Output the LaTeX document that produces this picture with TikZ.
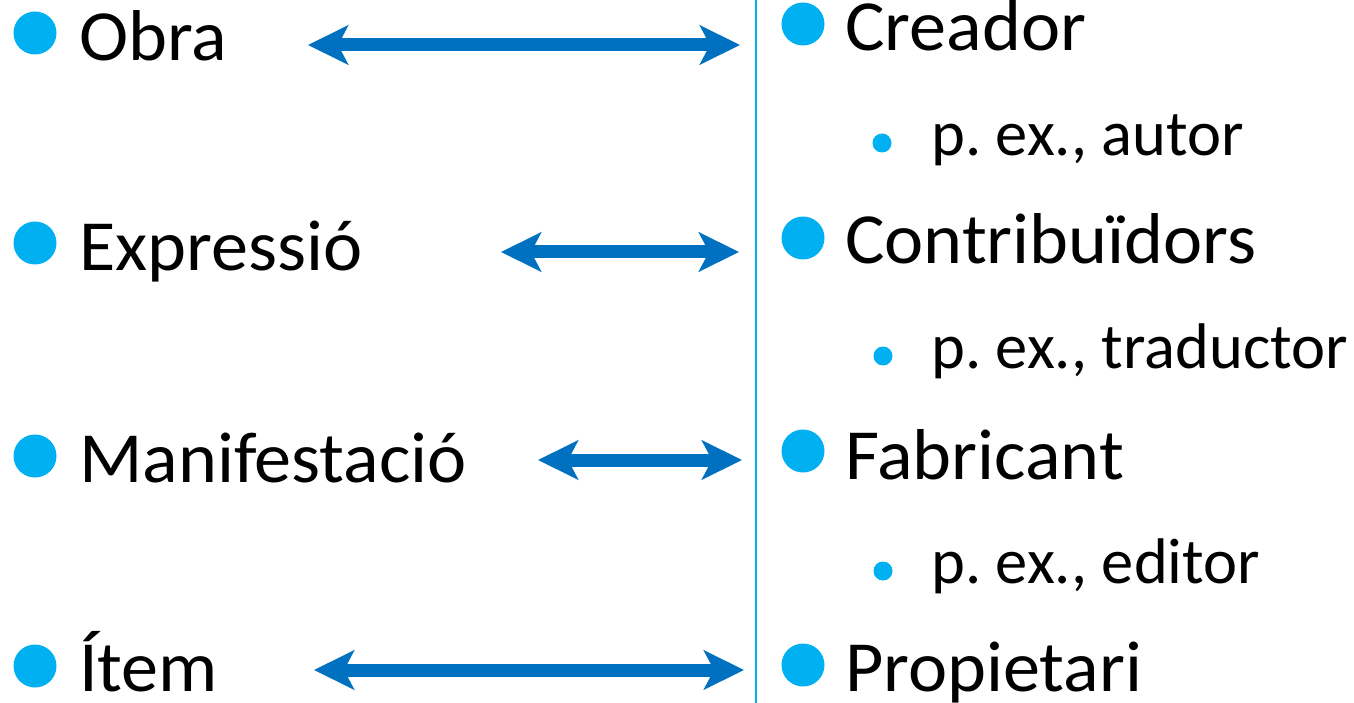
\documentclass[tikz,border=0pt]{standalone}
\usepackage{fontspec}
\setmainfont{Carlito}
\newfontfamily\widefont[FakeStretch=1.03]{Carlito}
\usetikzlibrary{arrows.meta}
\definecolor{bulletblue}{HTML}{00B0F0}
\definecolor{arrowblue}{HTML}{0070C0}
\frenchspacing
\begin{document}
\begin{tikzpicture}[x=1pt,y=-1pt,
  bigdot/.style={circle,fill=bulletblue,inner sep=0pt,minimum size=43pt},
  smalldot/.style={circle,fill=bulletblue,inner sep=0pt,minimum size=19pt},
  bigtext/.style={anchor=base west,inner sep=0pt,font=\widefont\fontsize{72}{86}\selectfont},
  smalltext/.style={anchor=base west,inner sep=0pt,font=\fontsize{64.5}{77}\selectfont},
  dblarrow/.style={draw=arrowblue,line width=13pt,{Stealth[length=40pt,width=39pt,inset=10pt]}-{Stealth[length=40pt,width=39pt,inset=10pt]}},
  divider/.style={draw=bulletblue,line width=2pt}]
\useasboundingbox (0,0) rectangle (1354,703);
% left column
\node[bigdot] (b1) at (35,33) {};
\node[bigtext] (t1) at (79,61) {Obra};
\node[bigdot] (b2) at (35,243) {};
\node[bigtext] (t2) at (79,270) {Expressió};
\node[bigdot] (b3) at (35,456) {};
\node[bigtext] (t3) at (79,482) {Manifestació};
\node[bigdot] (b4) at (35,666) {};
\node[bigtext] (t4) at (79,691) {Ítem};
% divider
\coordinate (vtop) at (756,0);
\coordinate (vbot) at (756,703);
\draw[divider] (vtop) -- (vbot);
% right column
\node[bigdot] (r1) at (803,24) {};
\node[bigtext] (u1) at (845,51) {Creador};
\node[smalldot] (s1) at (882,143) {};
\node[smalltext] (v1) at (931,156) {p. ex., autor};
\node[bigdot] (r2) at (803,238) {};
\node[bigtext] (u2) at (845,264) {Contribuïdors};
\node[smalldot] (s2) at (883,356) {};
\node[smalltext] (v2) at (931,368) {p. ex., traductor};
\node[bigdot] (r3) at (803,451) {};
\node[bigtext] (u3) at (845,479) {Fabricant};
\node[smalldot] (s3) at (883,571) {};
\node[smalltext] (v3) at (931,583) {p. ex., editor};
\node[bigdot] (r4) at (803,665) {};
\node[bigtext] (u4) at (845,691) {Propietari};
% arrows
\coordinate (a1l) at (308,45);  \coordinate (a1r) at (740,45);
\coordinate (a2l) at (501,252); \coordinate (a2r) at (739,252);
\coordinate (a3l) at (538,460); \coordinate (a3r) at (742,460);
\coordinate (a4l) at (314,670); \coordinate (a4r) at (744,670);
\draw[dblarrow] (a1l) -- (a1r);
\draw[dblarrow] (a2l) -- (a2r);
\draw[dblarrow] (a3l) -- (a3r);
\draw[dblarrow] (a4l) -- (a4r);
\end{tikzpicture}
\end{document}
